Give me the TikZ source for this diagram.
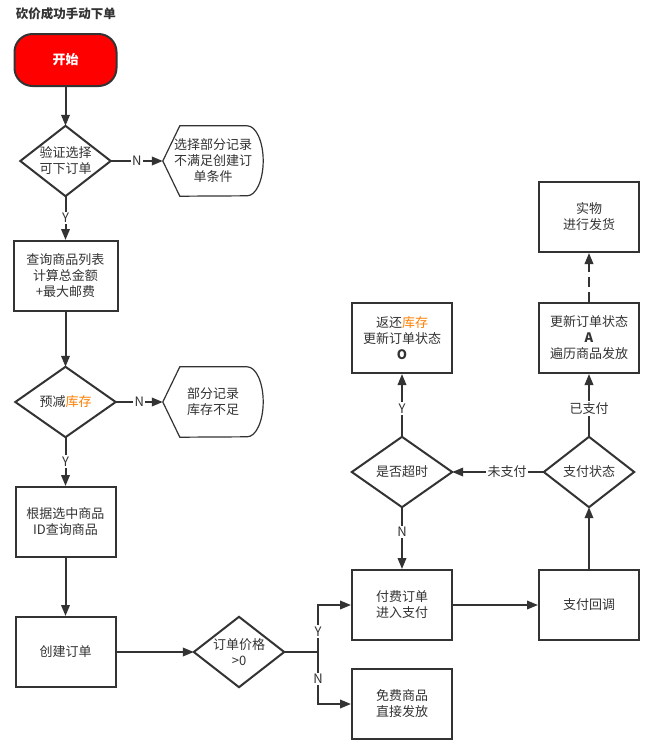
\documentclass[tikz,border=0pt]{standalone}
\usepackage{fontspec}
\setmainfont{Noto Sans CJK SC}
\usetikzlibrary{arrows.meta}
\definecolor{linegray}{HTML}{333333}
\definecolor{stockorange}{HTML}{FF8000}
\newcommand{\kucun}{\textcolor{stockorange}{库存}}

\begin{document}
\begin{tikzpicture}[x=1pt,y=-1pt,
  every node/.style={text=linegray, font=\fontsize{13}{16}\selectfont, align=center},
  box/.style={draw=linegray, line width=2pt, minimum width=100pt, minimum height=70pt, inner sep=0pt},
  dmd/.style={minimum width=90pt, minimum height=70pt, inner sep=0pt},
  disp/.style={minimum width=100pt, minimum height=70pt, inner sep=0pt},
  outline/.style={draw=linegray, line width=2pt, line join=miter},
  flow/.style={draw=linegray, line width=2pt, -{Triangle[length=11pt,width=8.5pt]}},
  lbl/.style={fill=white, inner sep=1.5pt}]
  \useasboundingbox (0,0) rectangle (654,748);
  \fill[white] (0,0) rectangle (654,748);
  % Title and start
  \node[font=\fontsize{12.5}{15}\selectfont\bfseries] (title) at (66,14) {砍价成功手动下单};
  \node[box, fill=red, text=white, rounded corners=18pt, minimum width=102pt, minimum height=52pt,
        font=\fontsize{13}{16}\selectfont\bfseries] (start) at (65.5,60) {开始};
  % Left column
  \node[dmd] (chk) at (65.5,161) {验证选择\\可下订单};
  \node[disp] (skip1) at (213,161) {选择部分记录\\不满足创建订\\单条件};
  \node[box, minimum width=104pt] (list) at (65.5,276) {查询商品列表\\计算总金额\\+最大邮费};
  \node[dmd, minimum width=100pt] (stock) at (65.5,402) {预减\kucun};
  \node[disp] (skip2) at (213,402) {部分记录\\库存不足};
  \node[box] (query) at (65.5,522) {根据选中商品\\ID查询商品};
  \node[box] (create) at (65.5,652) {创建订单};
  \node[dmd] (price) at (239,652) {订单价格\\>0};
  \coordinate (fork) at (318,652);
  % Right part
  \node[box] (paid) at (402,605) {付费订单\\进入支付};
  \node[box] (free) at (402,704) {免费商品\\直接发放};
  \node[box] (callback) at (589,605) {支付回调};
  \node[dmd] (paystat) at (589,472) {支付状态};
  \node[dmd, minimum width=100pt] (timeout) at (402,472) {是否超时};
  \node[box] (back) at (402,338) {返还\kucun\\更新订单状态\\\textbf{O}};
  \node[box] (update) at (589,338) {更新订单状态\\\textbf{A}\\遍历商品发放};
  \node[box] (ship) at (589,217) {实物\\进行发货};
  % Shapes drawn round the nodes
  \foreach \d in {chk,stock,price,timeout,paystat}
    \draw[outline] (\d.north) -- (\d.east) -- (\d.south) -- (\d.west) -- cycle;
  \foreach \s in {skip1,skip2}
    \draw[outline, line width=1.2pt] (\s.west) -- ([xshift=17pt]\s.north west) -- ([xshift=-16pt]\s.north east)
      arc[start angle=90, end angle=-90, x radius=16pt, y radius=35pt] -- ([xshift=17pt]\s.south west) -- cycle;
  % Connectors
  \draw[flow] (start) -- (chk);
  \draw[flow] (chk.east) -- node[lbl] {N} (skip1.west);
  \draw[flow] (chk) -- node[lbl] {Y} (list);
  \draw[flow] (list) -- (stock);
  \draw[flow] (stock.east) -- node[lbl] {N} (skip2.west);
  \draw[flow] (stock) -- node[lbl] {Y} (query);
  \draw[flow] (query) -- (create);
  \draw[flow] (create) -- (price);
  \draw[draw=linegray, line width=2pt] (price.east) -- (fork);
  \draw[flow] (fork) |- node[lbl, pos=0.22] {Y} (paid.west);
  \draw[flow] (fork) |- node[lbl, pos=0.26] {N} (free.west);
  \draw[flow] (paid) -- (callback);
  \draw[flow] (callback) -- (paystat);
  \draw[flow] (paystat) -- node[lbl, pos=0.4] {未支付} (timeout);
  \draw[flow] (timeout) -- node[lbl, pos=0.4] {N} (paid);
  \draw[flow] (timeout) -- node[lbl, pos=0.45] {Y} (back);
  \draw[flow] (paystat) -- node[lbl, pos=0.45] {已支付} (update);
  \draw[flow, dash pattern=on 10pt off 5pt] (update) -- (ship);
\end{tikzpicture}
\end{document}
